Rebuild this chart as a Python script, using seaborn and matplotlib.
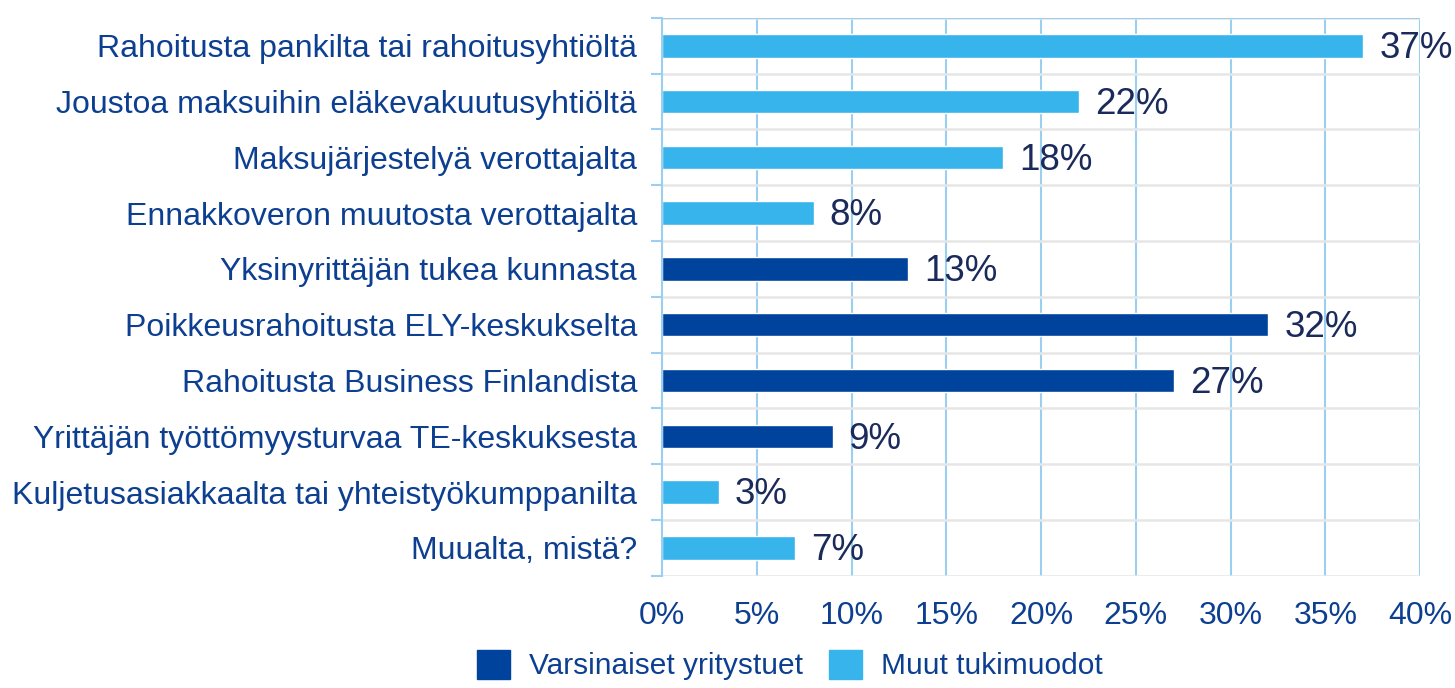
import matplotlib
matplotlib.use('Agg')
import matplotlib.pyplot as plt
from matplotlib.patches import Patch
from matplotlib.ticker import PercentFormatter
import seaborn as sns
import pandas as pd

categories = ['Rahoitusta pankilta tai rahoitusyhtiöltä',
              'Joustoa maksuihin eläkevakuutusyhtiöltä',
              'Maksujärjestelyä verottajalta',
              'Ennakkoveron muutosta verottajalta',
              'Yksinyrittäjän tukea kunnasta',
              'Poikkeusrahoitusta ELY-keskukselta',
              'Rahoitusta Business Finlandista',
              'Yrittäjän työttömyysturvaa TE-keskuksesta',
              'Kuljetusasiakkaalta tai yhteistyökumppanilta',
              'Muualta, mistä?']
values = [37, 22, 18, 8, 13, 32, 27, 9, 3, 7]
groups = ['Muut tukimuodot'] * 4 + ['Varsinaiset yritystuet'] * 4 + ['Muut tukimuodot'] * 2
group_names = ['Varsinaiset yritystuet', 'Muut tukimuodot']
group_colors = ['#00439C', '#38B4EC']

df = pd.DataFrame({'cat': categories, 'val': values, 'group': groups})
palette = dict(zip(group_names, group_colors))

sns.set_style('white')
plt.rcParams['font.family'] = ['Liberation Sans', 'DejaVu Sans']
label_col = '#0D3F91'
grid_blue = '#9BCFF0'

fig, ax = plt.subplots(figsize=(14.55, 6.88), dpi=100)
fig.subplots_adjust(left=0.455, right=0.976, top=0.974, bottom=0.163)

sns.barplot(data=df, y='cat', x='val', hue='group', palette=palette,
            dodge=False, width=0.42, ax=ax, legend=False, saturation=1)

ax.set_xlim(0, 40)
ax.set_ylim(9.5, -0.5)
ax.set_xticks(range(0, 41, 5))
ax.xaxis.set_major_formatter(PercentFormatter(decimals=0))
ax.set_xlabel('')
ax.set_ylabel('')

# grid: vertical light blue, horizontal light gray at category boundaries
for x in range(5, 41, 5):
    ax.axvline(x, color=grid_blue, lw=1.5, zorder=0)
for y in [i + 0.5 for i in range(-1, 10)]:
    ax.axhline(y, color='#E6E6E6', lw=1.8, zorder=0)
ax.axhline(-0.5, color=grid_blue, lw=1.5, zorder=0)

for s in ['top', 'right', 'bottom']:
    ax.spines[s].set_visible(False)
ax.spines['left'].set_color(grid_blue)
ax.spines['left'].set_linewidth(1.5)

ax.set_yticks([i + 0.5 for i in range(-1, 10)], minor=True)
ax.tick_params(axis='y', which='minor', left=True, length=8, width=1.5, color=grid_blue)
ax.tick_params(axis='y', which='major', length=0, labelsize=23, labelcolor=label_col, pad=18)
ax.tick_params(axis='x', length=0, labelsize=23, labelcolor=label_col, pad=18)

for i, v in enumerate(values):
    ax.text(v + 0.85, i + 0.05, f'{v}%', va='center', ha='left',
            fontsize=26.5, color='#1A2A5A')

handles = [Patch(color=c, label=n) for n, c in zip(group_names, group_colors)]
fig.legend(handles=handles, loc='lower center', bbox_to_anchor=(0.543, -0.028),
           ncol=2, frameon=False, fontsize=21.5, handlelength=1.1, handleheight=1.1,
           handletextpad=0.65, columnspacing=0.85, labelcolor=label_col)

plt.savefig('out.png', dpi=100)
